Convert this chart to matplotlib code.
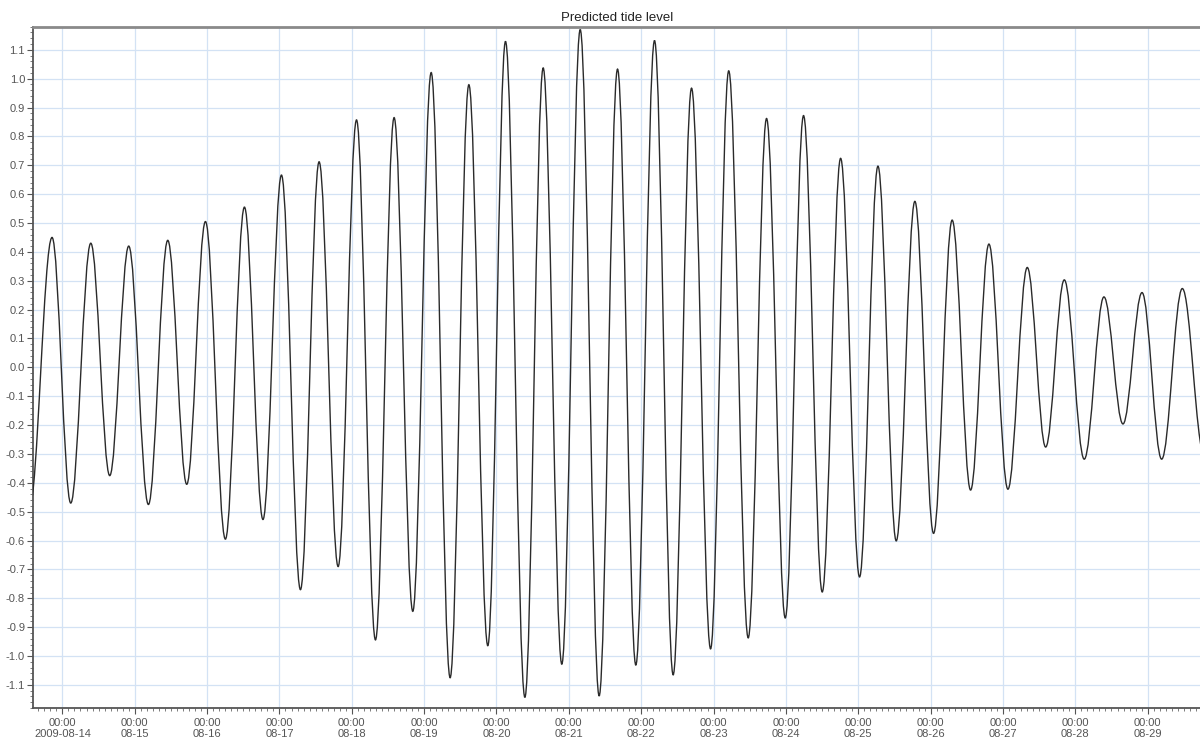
import numpy as np
import pandas as pd
import matplotlib
matplotlib.use('Agg')
import matplotlib.pyplot as plt
import matplotlib.dates as mdates
from matplotlib.path import Path
from matplotlib.patches import PathPatch
from matplotlib.ticker import MultipleLocator

plt.rcParams['font.family'] = ['Liberation Sans', 'DejaVu Sans']

# high / low water times and levels
extreme_times = [
    '2009-08-13 13:00', '2009-08-13 20:34', '2009-08-14 02:46', '2009-08-14 09:25',
    '2009-08-14 15:42', '2009-08-14 22:00', '2009-08-15 04:32', '2009-08-15 10:57',
    '2009-08-15 17:15', '2009-08-15 23:27', '2009-08-16 06:04', '2009-08-16 12:23',
    '2009-08-16 18:32', '2009-08-17 00:40', '2009-08-17 06:58', '2009-08-17 13:09',
    '2009-08-17 19:28', '2009-08-18 01:34', '2009-08-18 07:51', '2009-08-18 14:02',
    '2009-08-18 20:14', '2009-08-19 02:20', '2009-08-19 08:37', '2009-08-19 14:50',
    '2009-08-19 21:07', '2009-08-20 02:59', '2009-08-20 09:25', '2009-08-20 15:29',
    '2009-08-20 21:40', '2009-08-21 03:46', '2009-08-21 10:03', '2009-08-21 16:09',
    '2009-08-21 22:13', '2009-08-22 04:25', '2009-08-22 10:36', '2009-08-22 16:42',
    '2009-08-22 23:01', '2009-08-23 05:02', '2009-08-23 11:30', '2009-08-23 17:35',
    '2009-08-23 23:47', '2009-08-24 05:51', '2009-08-24 12:03', '2009-08-24 18:09',
    '2009-08-25 00:26', '2009-08-25 06:32', '2009-08-25 12:36', '2009-08-25 18:47',
    '2009-08-26 00:59', '2009-08-26 07:09', '2009-08-26 13:16', '2009-08-26 19:21',
    '2009-08-27 01:39', '2009-08-27 08:04', '2009-08-27 14:10', '2009-08-27 20:21',
    '2009-08-28 02:58', '2009-08-28 09:30', '2009-08-28 15:49', '2009-08-28 22:08',
    '2009-08-29 04:39', '2009-08-29 11:30', '2009-08-29 18:43',
]
extreme_levels = [
    -0.49, 0.45, -0.47, 0.43,
    -0.375, 0.42, -0.475, 0.44,
    -0.405, 0.505, -0.595, 0.555,
    -0.527, 0.666, -0.77, 0.712,
    -0.69, 0.857, -0.944, 0.865,
    -0.845, 1.021, -1.075, 0.979,
    -0.964, 1.129, -1.143, 1.037,
    -1.028, 1.170, -1.138, 1.033,
    -1.031, 1.132, -1.065, 0.967,
    -0.975, 1.027, -0.937, 0.862,
    -0.868, 0.872, -0.778, 0.724,
    -0.726, 0.697, -0.601, 0.575,
    -0.575, 0.510, -0.425, 0.427,
    -0.422, 0.346, -0.276, 0.303,
    -0.318, 0.244, -0.196, 0.259,
    -0.318, 0.273, -0.30,
]
view_start = '2009-08-13 14:22'
view_end = '2009-08-29 17:22'
y_range = (-1.18, 1.18)

t = mdates.date2num(pd.to_datetime(extreme_times).to_pydatetime())
h = np.array(extreme_levels)

# smooth tide curve: cubic bezier between successive extremes, flat at each turn
verts = [(t[0], h[0])]
codes = [Path.MOVETO]
k = 0.363
for i in range(1, len(t)):
    dt = t[i] - t[i - 1]
    verts += [(t[i - 1] + k * dt, h[i - 1]), (t[i] - k * dt, h[i]), (t[i], h[i])]
    codes += [Path.CURVE4] * 3

fig = plt.figure(figsize=(12, 7.37), dpi=100)
ax = fig.add_axes([0.0278, 0.0393, 0.9722, 0.9245])
ax.xaxis_date()
ax.add_patch(PathPatch(Path(verts, codes), fill=False, edgecolor='#2a2a2a', lw=1.0,
                       transform=ax.transData, zorder=3))

ax.set_xlim(mdates.datestr2num(view_start), mdates.datestr2num(view_end))
ax.set_ylim(*y_range)

ax.xaxis.set_major_locator(mdates.DayLocator())
ax.xaxis.set_minor_locator(mdates.HourLocator(byhour=range(0, 24, 2)))
ax.xaxis.set_major_formatter(mdates.ConciseDateFormatter(ax.xaxis.get_major_locator()))


def xfmt(x, pos=None):
    d = mdates.num2date(x)
    if pos == 0:
        return d.strftime('%H:%M\n%Y-%m-%d')
    return d.strftime('%H:%M\n%m-%d')


ax.xaxis.set_major_formatter(plt.FuncFormatter(xfmt))
ax.yaxis.set_major_locator(MultipleLocator(0.1))
ax.yaxis.set_minor_locator(MultipleLocator(0.02))
ax.yaxis.set_major_formatter(plt.FuncFormatter(lambda v, p: f'{v:.1f}'.replace('-0.0', '0.0')))

ax.grid(True, which='major', color='#d3e2f4', lw=0.9)
ax.set_axisbelow(True)

ax.tick_params(which='major', length=4, width=0.8, color='#555555', labelsize=8,
               labelcolor='#555555', pad=2)
ax.tick_params(which='minor', length=2.5, width=0.6, color='#666666')
ax.tick_params(axis='x', pad=3)

ax.spines['right'].set_visible(False)
ax.spines['top'].set_color('#8a8a8a')
ax.spines['top'].set_linewidth(2)
ax.spines['left'].set_color('#555555')
ax.spines['left'].set_linewidth(1.3)
ax.spines['bottom'].set_color('#555555')
ax.spines['bottom'].set_linewidth(1.3)

ax.set_title('Predicted tide level', fontsize=9.5, color='#222222', pad=4)

fig.savefig('out.png', dpi=100)
